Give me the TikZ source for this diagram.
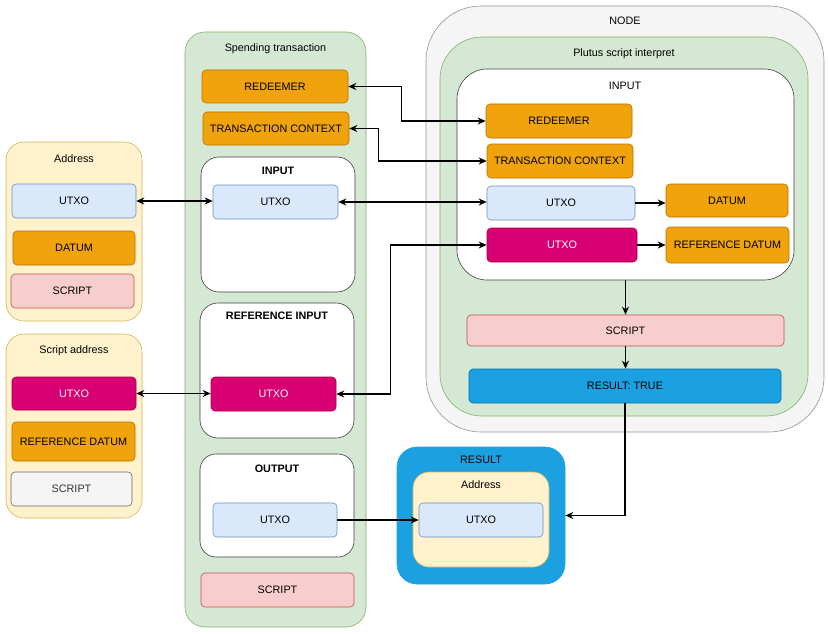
\documentclass[tikz,border=0pt]{standalone}
\usepackage{fontspec}
\setmainfont{Liberation Sans}
\usepackage{xcolor}
\usetikzlibrary{arrows.meta, positioning}

\definecolor{yellowF}{HTML}{FFF2CC}\definecolor{yellowD}{HTML}{D6B656}
\definecolor{blueF}{HTML}{DAE8FC}\definecolor{blueD}{HTML}{6C8EBF}
\definecolor{orangeF}{HTML}{F0A30A}\definecolor{orangeD}{HTML}{BD7000}
\definecolor{pinkF}{HTML}{F8CECC}\definecolor{pinkD}{HTML}{B85450}
\definecolor{magF}{HTML}{D80073}\definecolor{magD}{HTML}{A50040}
\definecolor{grayF}{HTML}{F5F5F5}\definecolor{grayD}{HTML}{666666}
\definecolor{greenF}{HTML}{D5E8D4}\definecolor{greenD}{HTML}{82B366}
\definecolor{cyanF}{HTML}{1BA1E2}\definecolor{cyanD}{HTML}{006EAF}

\begin{document}
\begin{tikzpicture}[x=1pt, y=-1pt,
    wh/.style 2 args={minimum width=#1pt, minimum height=#2pt},
    base/.style={draw, line width=0.6pt, inner sep=0pt, align=center,
        font=\fontsize{10.8}{13}\selectfont},
    box/.style={base, rounded corners=4pt},
    utxo/.style={box, fill=blueF, draw=blueD},
    refutxo/.style={box, fill=magF, draw=magD, text=white},
    datum/.style={box, fill=orangeF, draw=orangeD},
    script/.style={box, fill=pinkF, draw=pinkD},
    greyscript/.style={box, fill=grayF, draw=grayD, text=black!80},
    result/.style={box, fill=cyanF, draw=cyanD},
    group/.style={base, draw=black!75},
    title/.style={font=\fontsize{10.8}{13}\selectfont},
    bold title/.style={title, font=\fontsize{10.8}{13}\selectfont\bfseries},
    link/.style={line width=1.3pt, -{Stealth[length=8pt, width=7pt]}},
    twoway/.style={line width=1.3pt, {Stealth[length=8pt, width=7pt]}-{Stealth[length=8pt, width=7pt]}}]

    \useasboundingbox (0,0) rectangle (828,634);

    % =================================================================
    % 1. WALLET ADDRESSES
    % =================================================================
    \node[group, fill=yellowF, draw=yellowD, rounded corners=18pt, wh={136}{179}] (addr) at (74,231.5) {};
    \node[title] (addrT) at (74,159) {Address};
    \node[utxo, wh={124}{34}] (aUTXO) at (74,201) {UTXO};
    \node[datum, wh={122}{34}] (aDatum) at (74,248) {DATUM};
    \node[script, wh={123}{34}] (aScript) at (72.5,291) {SCRIPT};

    \node[group, fill=yellowF, draw=yellowD, rounded corners=18pt, wh={136}{184}] (saddr) at (74,426) {};
    \node[title] (saddrT) at (74,351) {Script address};
    \node[refutxo, wh={124}{33}] (sUTXO) at (74,393.5) {UTXO};
    \node[datum, wh={123}{39}] (sRefDatum) at (73.5,441.5) {REFERENCE DATUM};
    \node[greyscript, wh={121}{34}] (sScript) at (71.5,489) {SCRIPT};

    % =================================================================
    % 2. SPENDING TRANSACTION
    % =================================================================
    \node[group, fill=greenF, draw=greenD, rounded corners=20pt, wh={181}{595}] (tx) at (275.5,329.5) {};
    \node[title] (txT) at (275.5,49) {Spending transaction};
    \node[datum, wh={146}{33}] (tRedeemer) at (275,86.5) {REDEEMER};
    \node[datum, wh={146}{33}] (tContext) at (276,128.5) {TRANSACTION CONTEXT};

    \node[group, fill=white, rounded corners=18pt, wh={154}{135}] (tInput) at (278,224.5) {};
    \node[bold title] (tInputT) at (278,171) {INPUT};
    \node[utxo, wh={125}{34}] (tInUTXO) at (275.5,202) {UTXO};

    \node[group, fill=white, rounded corners=18pt, wh={154}{135}] (tRefInput) at (277,370.5) {};
    \node[bold title] (tRefInputT) at (277,316) {REFERENCE INPUT};
    \node[refutxo, wh={125}{34}] (tRefUTXO) at (273.5,394) {UTXO};

    \node[group, fill=white, rounded corners=16pt, wh={154}{103}] (tOutput) at (277,505.5) {};
    \node[bold title] (tOutputT) at (277,469) {OUTPUT};
    \node[utxo, wh={124}{34}] (tOutUTXO) at (275,520) {UTXO};

    \node[script, wh={153}{34}] (tScript) at (277.5,590) {SCRIPT};

    % =================================================================
    % 3. NODE AND PLUTUS INTERPRETER
    % =================================================================
    \node[group, fill=grayF, draw=grayD!70, rounded corners=55pt, wh={398}{426}] (node) at (625,219) {};
    \node[title] (nodeT) at (625,21) {NODE};
    \node[group, fill=greenF, draw=greenD, rounded corners=42pt, wh={368}{379}] (plutus) at (624,226.5) {};
    \node[title] (plutusT) at (624,54) {Plutus script interpret};

    \node[group, fill=white, rounded corners=30pt, wh={337}{211}] (pInput) at (625.5,174.5) {};
    \node[title] (pInputT) at (625,86) {INPUT};
    \node[datum, wh={146}{34}] (pRedeemer) at (559,121) {REDEEMER};
    \node[datum, wh={146}{34}] (pContext) at (560,161) {TRANSACTION CONTEXT};
    \node[utxo, wh={148}{34}] (pUTXO) at (561,203) {UTXO};
    \node[refutxo, wh={150}{34}] (pRefUTXO) at (562,245) {UTXO};
    \node[datum, wh={122}{33}] (pDatum) at (727,200.5) {DATUM};
    \node[datum, wh={123}{36}] (pRefDatum) at (727.5,245) {REFERENCE DATUM};

    \node[script, wh={317}{31}] (pScript) at (625.5,330.5) {SCRIPT};
    \node[result, wh={312}{34}] (pResult) at (625,386) {RESULT: TRUE};

    % =================================================================
    % 4. RESULT
    % =================================================================
    \node[group, fill=cyanF, draw=cyanF, rounded corners=20pt, wh={168}{137}] (res) at (481,515.5) {};
    \node[title] (resT) at (481,460) {RESULT};
    \node[group, fill=yellowF, draw=yellowD, rounded corners=16pt, wh={136}{95}] (rAddr) at (481,519.5) {};
    \node[title] (rAddrT) at (481,485) {Address};
    \node[utxo, wh={124}{34}] (rUTXO) at (481,520) {UTXO};

    % =================================================================
    % 5. CONNECTORS
    % =================================================================
    \draw[twoway] (aUTXO.east) -- (aUTXO.east -| tInUTXO.west);
    \draw[twoway] (tInUTXO.east) -- (tInUTXO.east -| pUTXO.west);
    \draw[twoway] (tRedeemer.east) -- ++(53,0) |- (pRedeemer.west);
    \draw[twoway] (tContext.east) -- ++(29,0) |- (pContext.west);
    \draw[twoway] (sUTXO.east) -- (sUTXO.east -| tRefUTXO.west);
    \draw[twoway] (tRefUTXO.east) -- ++(54,0) |- (pRefUTXO.west);

    \draw[link] (pUTXO.east) -- (pUTXO.east -| pDatum.west);
    \draw[link] (pRefUTXO.east) -- (pRefUTXO.east -| pRefDatum.west);
    \draw[link] (pInput.south) -- (pInput.south |- pScript.north);
    \draw[link] (pScript.south) -- (pScript.south |- pResult.north);
    \draw[link] (pResult.south) |- (res.east);
    \draw[link] (tOutUTXO.east) -- (tOutUTXO.east -| rUTXO.west);

\end{tikzpicture}
\end{document}
